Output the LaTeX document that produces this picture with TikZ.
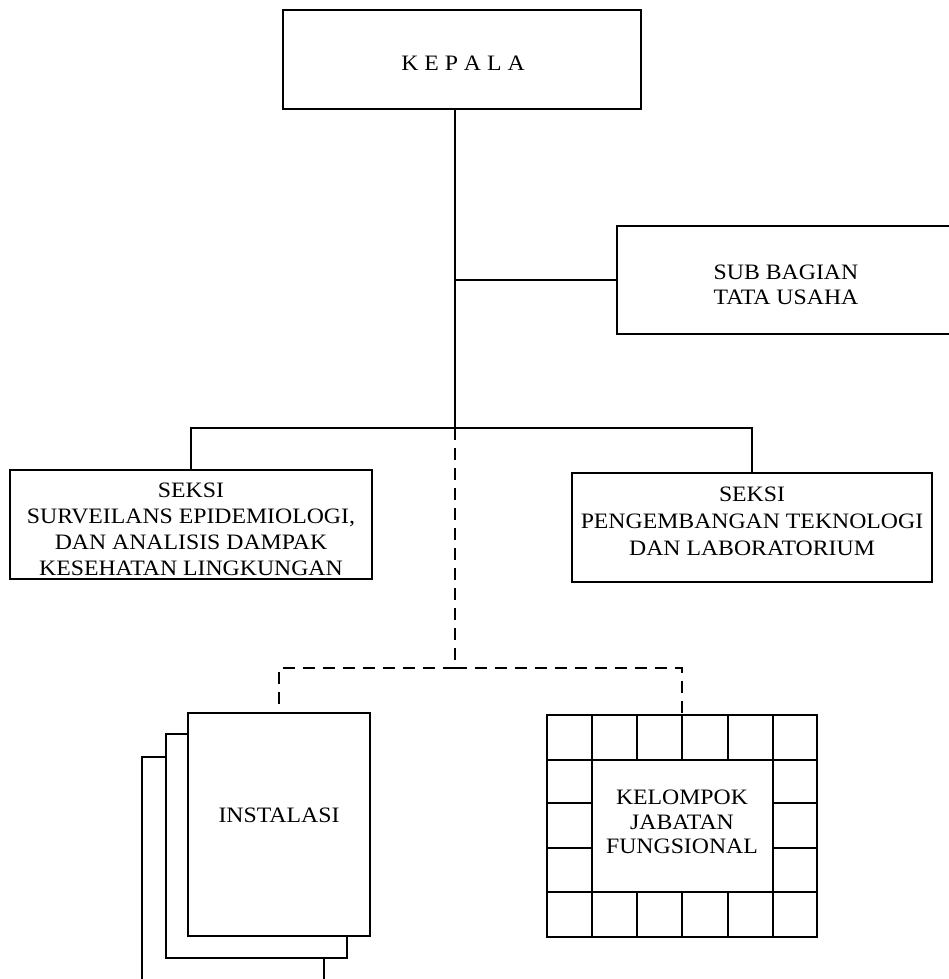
\documentclass[tikz,border=0pt]{standalone}
\usepackage{fontspec}
\setmainfont{Liberation Serif}[FakeStretch=1.08]
\begin{document}
\begin{tikzpicture}[x=1pt,y=-1pt,
  box/.style={draw, line width=1.5pt, rectangle, inner sep=0pt, fill=white},
  lbl/.style={inner sep=0pt, align=center, font=\fontsize{22}{26}\selectfont},
  conn/.style={line width=1.2pt},
  dconn/.style={line width=1.2pt, dash pattern=on 12pt off 8pt},
  gline/.style={line width=1.3pt}]
\useasboundingbox (0,0) rectangle (949,979);
\clip (0,0) rectangle (949,979);
\fill[white] (0,0) rectangle (949,979);

% boxes
\node[box, minimum width=358pt, minimum height=99pt] (kepala) at (462,59.5) {};
\node[lbl] (kepalaT) at (463,63.5) {K E P A L A};

\node[box, minimum width=338pt, minimum height=108pt] (sub) at (786,280) {};
\node[lbl, font=\fontsize{22}{25}\selectfont] (subT) at (786,284.5) {SUB BAGIAN\\TATA USAHA};

\node[box, minimum width=362pt, minimum height=109pt] (seksiA) at (191,524.5) {};
\node[lbl] (seksiAT) at (191,529)
  {SEKSI\\SURVEILANS EPIDEMIOLOGI,\\DAN ANALISIS DAMPAK\\KESEHATAN LINGKUNGAN};

\node[box, minimum width=360pt, minimum height=109pt] (seksiB) at (752,527.5) {};
\node[lbl, font=\fontsize{22}{27}\selectfont] (seksiBT) at (752,521)
  {SEKSI\\PENGEMBANGAN TEKNOLOGI\\DAN LABORATORIUM};

% stacked instalasi
\node[box, minimum width=182pt, minimum height=224pt] (instC) at (233,869) {};
\node[box, minimum width=181pt, minimum height=224pt] (instB) at (256.5,846) {};
\node[box, minimum width=182pt, minimum height=223pt] (inst) at (279,824.5) {};
\node[lbl] (instT) at (279,815) {INSTALASI};

% grid box
\node[box, minimum width=270pt, minimum height=222pt] (grid) at (682,826) {};
\draw[gline] (592,715) -- (592,937) (773,715) -- (773,937)
  (547,760) -- (817,760) (547,892) -- (817,892)
  (637,715) -- (637,760) (682,715) -- (682,760) (728,715) -- (728,760)
  (637,892) -- (637,937) (682,892) -- (682,937) (728,892) -- (728,937)
  (547,803) -- (592,803) (547,848) -- (592,848)
  (773,803) -- (817,803) (773,848) -- (817,848);
\node[lbl, font=\fontsize{22}{24.5}\selectfont] (gridT) at (682,822)
  {KELOMPOK\\JABATAN\\FUNGSIONAL};

% connectors
\coordinate (j1) at (455,428);
\coordinate (j2) at (455,668);
\draw[conn] (kepala.south -| j1) -- (j1);
\draw[conn] (sub.west -| j1) -- (sub.west);
\draw[conn] (seksiA.north) |- (j1) -| (seksiB.north);
\draw[dconn] (j1) -- (j2);
\draw[dconn] (j2) -| (inst.north);
\draw[dconn] (j2) -| (grid.north);
\end{tikzpicture}
\end{document}
